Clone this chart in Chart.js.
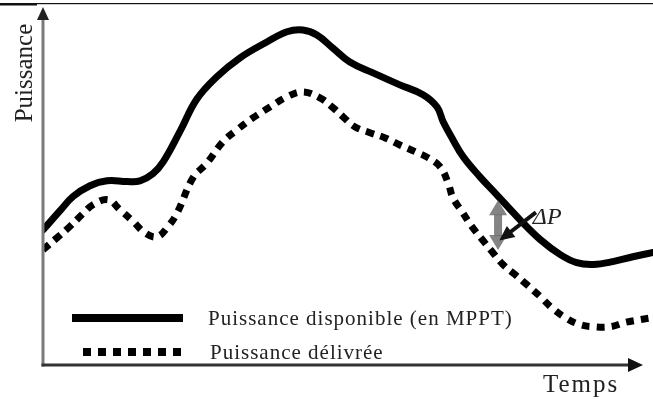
<!DOCTYPE html>
<html lang="fr">
<head>
<meta charset="utf-8">
<title>Puissance disponible / délivrée</title>
<script src="https://cdn.jsdelivr.net/npm/chart.js@4/dist/chart.umd.min.js"></script>
<style>
  html, body { margin: 0; padding: 0; background: #fff; }
  #graphe { display: block; }
</style>
</head>
<body>
<canvas id="graphe" width="653" height="399"></canvas>
<script>
// Puissance disponible (MPPT), temps en % de la fenêtre, puissance en unités relatives
const tempsDispo = [0, 2.8, 4.9, 7.7, 10.5, 13.8, 15.9, 18.0, 19.7, 22.5, 25.2, 28.5, 32.3, 36.7, 40.0, 42.6,
  44.9, 47.5, 50.3, 54.1, 58.5, 62.3, 64.6, 65.6, 67.2, 68.9, 71.6, 74.4, 78.2, 81.5, 84.8, 87.5, 90.2, 93.4, 96.7, 100];
const puissanceDispo = [37.4, 42.9, 46.9, 50.0, 51.4, 51.2, 51.4, 53.4, 56.8, 65.6, 74.6, 81.0, 86.4, 90.9, 93.8, 94.3,
  92.9, 89.2, 85.2, 82.1, 78.7, 75.9, 72.4, 68.2, 63.1, 58.2, 52.6, 47.4, 40.3, 34.7, 30.4, 28.1, 27.6, 28.4, 29.8, 31.0];

// Puissance réellement délivrée
const tempsDelivree = [0, 2.3, 4.4, 6.4, 8.2, 10.7, 12.6, 14.8, 16.7, 18.7, 20.5, 22.0, 24.6, 26.9, 29.5, 31.8,
  34.4, 37.2, 40.0, 42.6, 45.4, 47.4, 49.2, 51.1, 53.6, 56.1, 58.5, 61.0, 63.1, 65.1, 66.4, 67.2, 68.7, 70.3,
  72.0, 73.6, 75.4, 77.4, 79.3, 81.5, 83.4, 85.6, 88.0, 90.2, 93.0, 95.4, 97.9, 100];
const puissanceDelivree = [31.8, 35.2, 38.4, 41.8, 44.6, 46.0, 43.2, 39.8, 36.6, 35.5, 38.4, 42.3, 52.3, 56.5, 62.5, 65.9,
  69.3, 72.4, 75.3, 76.7, 75.0, 72.4, 69.6, 66.8, 65.1, 63.6, 61.6, 59.7, 58.0, 55.4, 50.9, 46.6, 42.6, 38.4,
  34.7, 31.3, 27.6, 24.7, 21.9, 18.5, 15.3, 12.5, 10.5, 9.9, 9.9, 11.1, 11.9, 12.5];

const libelles = ['Puissance disponible (en MPPT)', 'Puissance délivrée'];
const titreY = 'Puissance';
const titreX = 'Temps';

// écart ΔP repéré entre les deux courbes
const ecartT = 74.6, ecartHaut = 45.9, ecartBas = 31.7;
const flecheDe = { x: 80.8, y: 42.4 }, flecheA = { x: 74.8, y: 34.4 };
const etiquetteDP = { x: 80.3, y: 39.0 };

const points = (xs, ys) => xs.map((x, i) => ({ x: x, y: ys[i] }));

const serif = '"Liberation Serif", "Times New Roman", serif';

function triangle(ctx, a, b, c) {
  ctx.beginPath();
  ctx.moveTo(a[0], a[1]);
  ctx.lineTo(b[0], b[1]);
  ctx.lineTo(c[0], c[1]);
  ctx.closePath();
  ctx.fill();
}

// axes fléchés, titres, légende et annotation ΔP
const habillage = {
  id: 'habillage',
  afterDraw(chart) {
    const ctx = chart.ctx;
    const ca = chart.chartArea;
    const xs = chart.scales.x, ys = chart.scales.y;
    ctx.save();

    // filet en haut
    ctx.fillStyle = '#111';
    ctx.fillRect(0, 3, 37, 2.5);
    ctx.fillRect(37, 3, chart.width - 37, 1.2);

    // axe vertical
    ctx.strokeStyle = '#7a7a7a';
    ctx.lineWidth = 3;
    ctx.beginPath();
    ctx.moveTo(ca.left, ca.bottom + 1.5);
    ctx.lineTo(ca.left, ca.top + 8);
    ctx.stroke();
    ctx.fillStyle = '#222';
    triangle(ctx, [ca.left - 6, ca.top + 10], [ca.left + 6, ca.top + 10], [ca.left, ca.top - 3]);

    // axe horizontal
    ctx.strokeStyle = '#333';
    ctx.fillStyle = '#111';
    ctx.beginPath();
    ctx.moveTo(ca.left - 1.5, ca.bottom);
    ctx.lineTo(ca.right - 22, ca.bottom);
    ctx.stroke();
    triangle(ctx, [ca.right - 25, ca.bottom - 7], [ca.right - 25, ca.bottom + 7], [ca.right - 10, ca.bottom]);

    // titres des axes
    ctx.fillStyle = '#222';
    ctx.font = '25px ' + serif;
    ctx.textAlign = 'center';
    ctx.textBaseline = 'alphabetic';
    ctx.save();
    ctx.translate(32, 73);
    ctx.rotate(-Math.PI / 2);
    ctx.fillText(titreY, 0, 0);
    ctx.restore();
    ctx.letterSpacing = '2px';
    ctx.textAlign = 'left';
    ctx.fillText(titreX, 543, 392);

    // légende
    const dsets = chart.data.datasets;
    ctx.letterSpacing = '1px';
    ctx.font = '21px ' + serif;
    ctx.strokeStyle = dsets[0].borderColor;
    ctx.lineWidth = 8;
    ctx.lineCap = 'butt';
    ctx.beginPath();
    ctx.moveTo(72, 318);
    ctx.lineTo(183, 318);
    ctx.stroke();
    ctx.fillText(libelles[0], 208, 325);

    ctx.strokeStyle = dsets[1].borderColor;
    ctx.setLineDash([8, 7]);
    ctx.beginPath();
    ctx.moveTo(83, 352);
    ctx.lineTo(183, 352);
    ctx.stroke();
    ctx.setLineDash([]);
    ctx.fillText(libelles[1], 210, 359);

    // double flèche grise ΔP
    const gx = xs.getPixelForValue(ecartT);
    const gh = ys.getPixelForValue(ecartHaut), gb = ys.getPixelForValue(ecartBas);
    ctx.fillStyle = 'rgba(110,110,110,0.85)';
    triangle(ctx, [gx - 9, gh + 15], [gx + 9, gh + 15], [gx, gh]);
    ctx.fillRect(gx - 4, gh + 14, 8, gb - gh - 28);
    triangle(ctx, [gx - 9, gb - 15], [gx + 9, gb - 15], [gx, gb]);

    // flèche noire vers l'écart
    const ax = xs.getPixelForValue(flecheDe.x), ay = ys.getPixelForValue(flecheDe.y);
    const bx = xs.getPixelForValue(flecheA.x), by = ys.getPixelForValue(flecheA.y);
    const ang = Math.atan2(by - ay, bx - ax);
    ctx.strokeStyle = '#111';
    ctx.fillStyle = '#111';
    ctx.lineWidth = 4;
    ctx.beginPath();
    ctx.moveTo(ax, ay);
    ctx.lineTo(bx - 10 * Math.cos(ang), by - 10 * Math.sin(ang));
    ctx.stroke();
    triangle(ctx,
      [bx - 15 * Math.cos(ang) + 7 * Math.sin(ang), by - 15 * Math.sin(ang) - 7 * Math.cos(ang)],
      [bx - 15 * Math.cos(ang) - 7 * Math.sin(ang), by - 15 * Math.sin(ang) + 7 * Math.cos(ang)],
      [bx, by]);

    ctx.letterSpacing = '0px';
    ctx.fillStyle = '#222';
    ctx.font = 'italic 24px ' + serif;
    ctx.fillText('ΔP', xs.getPixelForValue(etiquetteDP.x), ys.getPixelForValue(etiquetteDP.y));

    ctx.restore();
  }
};

new Chart(document.getElementById('graphe').getContext('2d'), {
  type: 'line',
  data: {
    datasets: [{
      label: libelles[0],
      data: points(tempsDispo, puissanceDispo),
      borderColor: '#000',
      borderWidth: 7,
      borderCapStyle: 'round',
      borderJoinStyle: 'round',
      tension: 0.4,
      pointRadius: 0,
      fill: false
    }, {
      label: libelles[1],
      data: points(tempsDelivree, puissanceDelivree),
      borderColor: '#000',
      borderWidth: 7,
      borderDash: [8, 7],
      borderCapStyle: 'butt',
      tension: 0.4,
      pointRadius: 0,
      fill: false
    }]
  },
  options: {
    responsive: false,
    animation: false,
    layout: { padding: { left: 43, top: 10, right: 0, bottom: 34 } },
    plugins: {
      legend: { display: false },
      tooltip: { enabled: false }
    },
    scales: {
      x: { type: 'linear', display: false, min: 0, max: 100 },
      y: { type: 'linear', display: false, min: -1, max: 100 }
    }
  },
  plugins: [habillage]
});
</script>
</body>
</html>
